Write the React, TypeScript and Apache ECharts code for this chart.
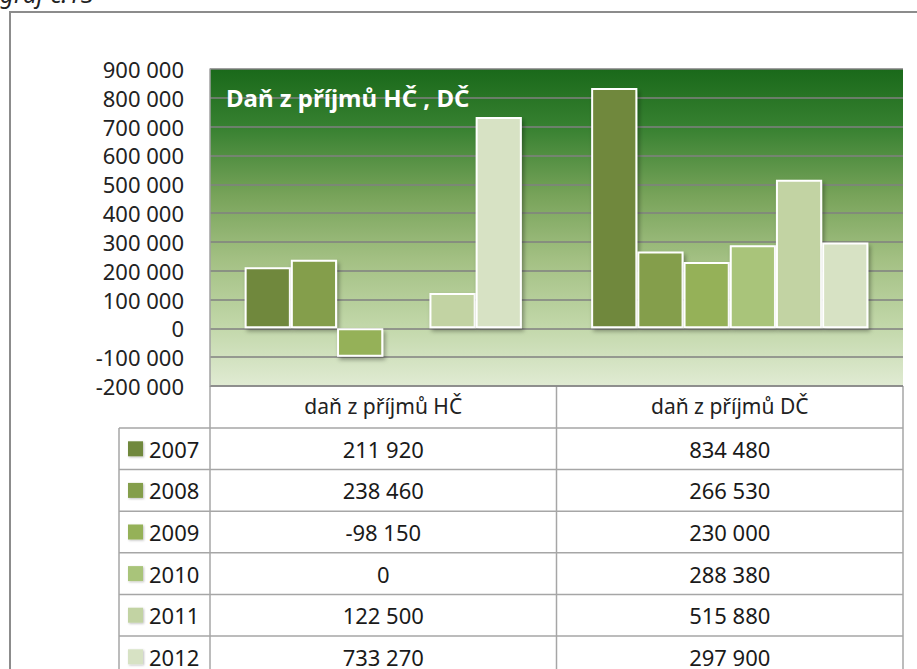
import React, { useEffect, useRef } from "react";
import * as echarts from "echarts";

const categories = ["daň z příjmů HČ", "daň z příjmů DČ"];
const years = ["2007", "2008", "2009", "2010", "2011", "2012"];
const valuesHC = [211920, 238460, -98150, 0, 122500, 733270];
const valuesDC = [834480, 266530, 230000, 288380, 515880, 297900];
const yearColors = ["#6f883c", "#849e4b", "#95b159", "#a9c47a", "#c2d3a3", "#d7e2c4"];
const chartTitle = "Daň z příjmů HČ , DČ";
const caption = "graf č.13";

const FONT = "'Noto Sans', 'Open Sans', sans-serif";

function fmt(v: number): string {
  const s = Math.abs(v).toString().replace(/\B(?=(\d{3})+(?!\d))/g, " ");
  return (v < 0 ? "-" : "") + s;
}

export default function App() {
  const ref = useRef<HTMLDivElement>(null);
  useEffect(() => {
    if (!ref.current) return;
    const chart = echarts.init(ref.current, null, { renderer: "svg" });

    const W = 917;
    const gridLeft = 210;
    const gridRight = 903;
    const gridTop = 69;
    const gridBottom = 386;
    const tableLeft = 119;
    const headerBottom = 428;
    const rowH = 41.6;
    const colSplit = (gridLeft + gridRight) / 2;
    const colCenters = [(gridLeft + colSplit) / 2, (colSplit + gridRight) / 2];
    const lineColor = "#a6a6a6";

    const series = years.map((y, i) => ({
      name: y,
      type: "bar",
      barGap: "0%",
      barCategoryGap: "20%",
      data: [valuesHC[i], valuesDC[i]].map((v) => ({
        value: v,
        itemStyle: v === 0 ? { borderWidth: 0, shadowBlur: 0, shadowOffsetX: 0, shadowOffsetY: 0 } : undefined,
      })),
      itemStyle: {
        color: yearColors[i],
        borderColor: "#ffffff",
        borderWidth: 2,
        shadowColor: "rgba(0,0,0,0.35)",
        shadowBlur: 4,
        shadowOffsetX: 2,
        shadowOffsetY: 3,
      },
    }));

    const graphics: any[] = [];
    graphics.push({
      type: "polyline",
      shape: { points: [[10, 700], [10, 12], [W + 5, 12]] },
      style: { stroke: "#8c8c8c", lineWidth: 2, fill: null },
      z: 1,
    });
    graphics.push({
      type: "text",
      x: 0,
      y: 5,
      style: {
        text: caption,
        font: `italic 24px ${FONT}`,
        fill: "#222",
        textAlign: "left",
        textVerticalAlign: "bottom",
      },
    });
    const nRows = years.length;
    const tableBottom = 700;
    graphics.push({ type: "line", shape: { x1: gridLeft, y1: gridBottom, x2: gridLeft, y2: tableBottom }, style: { stroke: lineColor, lineWidth: 1.5 } });
    graphics.push({ type: "line", shape: { x1: colSplit, y1: gridBottom, x2: colSplit, y2: tableBottom }, style: { stroke: lineColor, lineWidth: 1.5 } });
    graphics.push({ type: "line", shape: { x1: gridRight, y1: gridBottom, x2: gridRight, y2: tableBottom }, style: { stroke: lineColor, lineWidth: 1.5 } });
    graphics.push({ type: "line", shape: { x1: tableLeft, y1: headerBottom, x2: tableLeft, y2: tableBottom }, style: { stroke: lineColor, lineWidth: 1.5 } });
    graphics.push({ type: "line", shape: { x1: gridLeft, y1: gridBottom, x2: gridRight, y2: gridBottom }, style: { stroke: lineColor, lineWidth: 1.5 } });
    for (let r = 0; r <= nRows; r++) {
      const yy = headerBottom + r * rowH;
      graphics.push({ type: "line", shape: { x1: tableLeft, y1: yy, x2: gridRight, y2: yy }, style: { stroke: lineColor, lineWidth: 1.5 } });
    }
    years.forEach((y, r) => {
      const cy = headerBottom + r * rowH + rowH / 2;
      graphics.push({
        type: "rect",
        shape: { x: 128, y: cy - 7.5, width: 15, height: 15 },
        style: { fill: yearColors[r], shadowColor: "rgba(0,0,0,0.25)", shadowBlur: 2, shadowOffsetX: 1, shadowOffsetY: 1 },
      });
      graphics.push({
        type: "text",
        x: 149,
        y: cy,
        style: { text: y, font: `22px ${FONT}`, fill: "#1a1a1a", textAlign: "left", textVerticalAlign: "middle" },
      });
      [valuesHC[r], valuesDC[r]].forEach((v, c) => {
        graphics.push({
          type: "text",
          x: colCenters[c],
          y: cy,
          style: { text: fmt(v), font: `22px ${FONT}`, fill: "#1a1a1a", textAlign: "center", textVerticalAlign: "middle" },
        });
      });
    });

    chart.setOption({
      animation: false,
      backgroundColor: "#ffffff",
      title: {
        text: chartTitle,
        left: 221,
        top: 80,
        textStyle: { color: "#ffffff", fontSize: 24, fontWeight: "bold", fontFamily: FONT },
      },
      grid: {
        left: gridLeft,
        right: W - gridRight,
        top: gridTop,
        bottom: 669 - gridBottom,
        show: true,
        borderWidth: 0,
        backgroundColor: new echarts.graphic.LinearGradient(0, 0, 0, 1, [
          { offset: 0, color: "#1a691a" },
          { offset: 0.18, color: "#368030" },
          { offset: 0.4, color: "#78a35a" },
          { offset: 0.6, color: "#a3c083" },
          { offset: 0.8, color: "#c0d6a7" },
          { offset: 1, color: "#e0ebd3" },
        ]),
      },
      xAxis: {
        type: "category",
        data: categories,
        axisLine: { show: false, onZero: false },
        axisTick: { show: false },
        axisLabel: { show: true, margin: 9, fontSize: 21, color: "#222", fontFamily: FONT, interval: 0 },
        splitLine: { show: false },
      },
      yAxis: {
        type: "value",
        min: -200000,
        max: 900000,
        interval: 100000,
        axisLine: { show: true, lineStyle: { color: "#a0a0a0", width: 1.5 } },
        axisTick: { show: false },
        axisLabel: { margin: 26, fontSize: 22, color: "#222", fontFamily: FONT, formatter: (v: number) => fmt(v) },
        splitLine: { show: true, lineStyle: { color: "#808080", width: 1.5 } },
      },
      series,
      graphic: graphics,
    });
    return () => chart.dispose();
  }, []);
  return <div ref={ref} style={{ position: "fixed", left: 0, top: 0, width: 917, height: 669 }} />;
}
